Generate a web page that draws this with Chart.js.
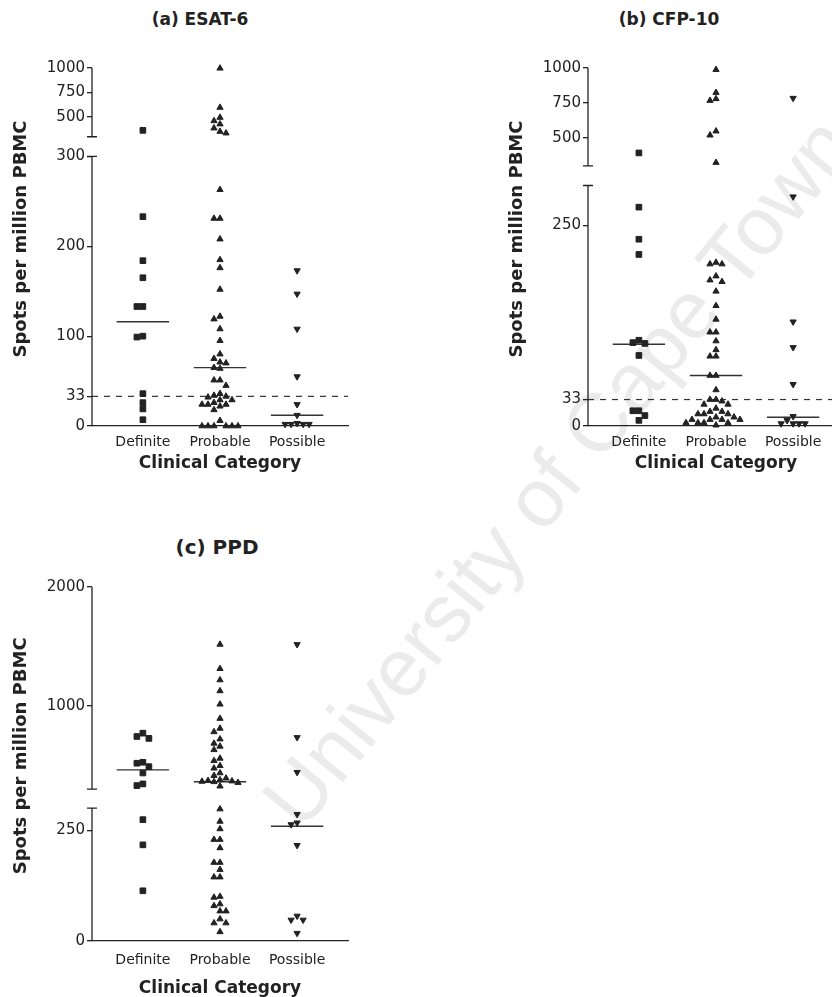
<!DOCTYPE html>
<html lang="en">
<head>
    <meta charset="UTF-8">
    <title>ELISpot responses by clinical category</title>
    <script src="https://cdn.jsdelivr.net/npm/chart.js"></script>
    <style>
        body { margin: 0; width: 832px; height: 997px; overflow: hidden; background: #fff; position: relative; }
        canvas { position: absolute; }
        .title { position: absolute; transform: translate(-50%, -50%); font-family: "DejaVu Sans"; font-weight: bold; color: #222; white-space: nowrap; }
        #watermark { position: absolute; left: 558px; top: 472px; transform: translate(-50%, -50%) rotate(-51deg);
                     font: 82px "Liberation Sans"; color: #ebebeb; white-space: nowrap; }
    </style>
</head>
<body>
    <div id="watermark">University of Cape Town</div>

    <div class="title" style="left:200px; top:19px; font-size:17px">(a) ESAT-6</div>
    <div class="title" style="left:669px; top:19px; font-size:17px">(b) CFP-10</div>
    <div class="title" style="left:217px; top:547px; font-size:20px">(c) PPD</div>

    <canvas id="esatChart" width="420" height="480" style="left:0; top:0"></canvas>
    <canvas id="cfpChart" width="420" height="480" style="left:496px; top:0"></canvas>
    <canvas id="ppdChart" width="420" height="480" style="left:0; top:519px"></canvas>

    <script>
        // categories and spot counts
        const categories = ['Definite', 'Probable', 'Possible'];

        const esatDefinite = [365, 233, 184, 165, 133, 133, 100, 99, 36, 26, 19, 7];
        const esatProbable = [997, 598, 496, 462, 429, 388, 353, 337, 263, 231, 231, 208, 185, 176, 152, 122, 119, 108, 95,
            80, 75, 71, 70, 65, 64, 51, 51, 45, 36, 34, 33, 32, 29, 29, 26, 24, 24, 24, 22, 18, 6, 0, 0, 0, 0, 0, 0];
        const esatPossible = [173, 147, 108, 55, 24, 12, 3, 2, 2, 2, 2];
        const esatMedians = [116, 65, 12];
        const esatTicks = [0, 33, 100, 200, 300, 500, 750, 1000];

        const cfpDefinite = [392, 273, 233, 214, 107, 104, 103, 88, 19, 19, 13, 7];
        const cfpProbable = [988, 824, 779, 767, 548, 519, 323, 204, 202, 202, 187, 182, 180, 168, 150, 133, 117, 117, 106,
            95, 87, 87, 63, 63, 45, 33, 33, 31, 27, 27, 22, 18, 18, 15, 15, 15, 11, 11, 8, 8, 8, 8, 4, 4, 4, 4, 1];
        const cfpPossible = [784, 286, 130, 98, 52, 12, 7, 3, 3, 3, 3];
        const cfpMedians = [102, 63, 11];
        const cfpTicks = [0, 33, 250, 500, 750, 1000];

        const ppdDefinite = [771, 743, 727, 526, 518, 489, 436, 344, 330, 274, 217, 113];
        const ppdProbable = [1517, 1313, 1218, 1126, 1014, 894, 811, 782, 721, 685, 660, 631, 559, 539, 497, 476, 436, 414,
            392, 378, 372, 368, 365, 362, 355, 325, 298, 270, 253, 229, 229, 210, 177, 177, 161, 144, 144, 100, 98, 83, 79,
            67, 67, 49, 40, 40, 20];
        const ppdPossible = [1517, 735, 442, 286, 267, 263, 216, 56, 47, 47, 17];
        const ppdMedians = [462, 362, 259];
        const ppdTicks = [0, 250, 1000, 2000];

        const cutoff = 33;

        const INK = '#222';
        const X_MIN = -0.66, X_MAX = 2.66;
        const PLOT_W = 256;

        // y axis is broken: lower part 0..breakAt, upper part breakAt..top.
        // values are mapped to pixel-sized units so each part keeps its own scale
        function makeMapper(seg) {
            return v => v <= seg.breakAt
                ? v / seg.breakAt * seg.lowPx
                : seg.lowPx + seg.gapPx + (v - seg.breakAt) / (seg.top - seg.breakAt) * seg.highPx;
        }

        // simple beeswarm so that equal values sit side by side
        function swarm(values, toV) {
            const step = 6, minD = 6;
            const placed = [];
            const out = new Array(values.length);
            const order = values.map((v, i) => i).sort((a, b) => values[b] - values[a]);
            for (const i of order) {
                const py = toV(values[i]);
                let dx = 0;
                for (const c of [0, -1, 1, -2, 2, -3, 3, -4, 4, -5, 5]) {
                    dx = c * step;
                    if (placed.every(p => Math.hypot(p.dx - dx, p.py - py) >= minD)) break;
                }
                placed.push({ dx, py });
                out[i] = dx;
            }
            return out;
        }

        // draws the two pieces of the y axis with caps at the break,
        // and the y title a little above the middle like the original
        const brokenAxis = {
            id: 'brokenAxis',
            afterDraw(chart, args, opts) {
                const { ctx, chartArea } = chart;
                const y = chart.scales.y;
                const x0 = chartArea.left;
                const lowTop = y.getPixelForValue(opts.lowPx);
                const highBottom = y.getPixelForValue(opts.lowPx + opts.gapPx);
                ctx.save();
                ctx.strokeStyle = INK;
                ctx.lineWidth = 1.3;
                ctx.beginPath();
                ctx.moveTo(x0, y.getPixelForValue(0));
                ctx.lineTo(x0, lowTop);
                ctx.moveTo(x0, highBottom);
                ctx.lineTo(x0, y.getPixelForValue(y.max));
                ctx.moveTo(x0 - 5, lowTop);
                ctx.lineTo(x0 + 5, lowTop);
                ctx.moveTo(x0 - 5, highBottom);
                ctx.lineTo(x0 + 5, highBottom);
                ctx.stroke();

                ctx.translate(21, (chartArea.top + chartArea.bottom) / 2 - 8);
                ctx.rotate(-Math.PI / 2);
                ctx.fillStyle = INK;
                ctx.font = 'bold 18px "DejaVu Sans"';
                ctx.textAlign = 'center';
                ctx.textBaseline = 'middle';
                ctx.fillText('Spots per million PBMC', 0, 0);
                ctx.restore();
            }
        };

        const markers = [
            { pointStyle: 'rect', rotation: 0, pointRadius: 4 },
            { pointStyle: 'triangle', rotation: 0, pointRadius: 3.6 },
            { pointStyle: 'triangle', rotation: 180, pointRadius: 3.6 }
        ];

        function buildPanel(canvasId, groups, medians, tickValues, seg, withCutoff) {
            const toV = makeMapper(seg);
            const pxPerX = PLOT_W / (X_MAX - X_MIN);
            const datasets = [];

            groups.forEach((vals, g) => {
                const offsets = swarm(vals, toV);
                datasets.push({
                    data: vals.map((v, i) => ({ x: g + offsets[i] / pxPerX, y: toV(v) })),
                    pointStyle: markers[g].pointStyle,
                    rotation: markers[g].rotation,
                    pointRadius: markers[g].pointRadius,
                    backgroundColor: INK,
                    borderColor: INK,
                    borderWidth: 1,
                    clip: 8
                });
            });

            medians.forEach((m, g) => {
                datasets.push({
                    data: [{ x: g - 0.34, y: toV(m) }, { x: g + 0.34, y: toV(m) }],
                    showLine: true,
                    pointRadius: 0,
                    borderColor: '#333',
                    borderWidth: 1.4
                });
            });

            if (withCutoff) {
                datasets.push({
                    data: [{ x: X_MIN, y: toV(cutoff) }, { x: X_MAX, y: toV(cutoff) }],
                    showLine: true,
                    pointRadius: 0,
                    borderColor: '#333',
                    borderWidth: 1.2,
                    borderDash: [6, 6]
                });
            }

            const ctx = document.getElementById(canvasId).getContext('2d');
            return new Chart(ctx, {
                type: 'scatter',
                data: { datasets: datasets },
                plugins: [brokenAxis],
                options: {
                    responsive: false,
                    animation: false,
                    layout: { padding: { top: 68, right: 72, bottom: 0, left: 0 } },
                    plugins: {
                        legend: { display: false },
                        tooltip: { enabled: false },
                        brokenAxis: { lowPx: seg.lowPx, gapPx: seg.gapPx }
                    },
                    scales: {
                        x: {
                            type: 'linear',
                            min: X_MIN,
                            max: X_MAX,
                            afterBuildTicks: s => { s.ticks = categories.map((c, i) => ({ value: i })); },
                            afterFit: s => { s.height = seg.xAxisH; },
                            ticks: {
                                autoSkip: false,
                                maxRotation: 0,
                                padding: seg.xTickPad,
                                color: INK,
                                font: { family: 'DejaVu Sans', size: 14 },
                                callback: (v, i) => categories[i]
                            },
                            grid: { display: false, drawTicks: false },
                            border: { display: true, color: INK, width: 1.3 },
                            title: {
                                display: true,
                                text: 'Clinical Category',
                                color: INK,
                                font: { family: 'DejaVu Sans', size: 17, weight: 'bold' },
                                padding: { top: 0, bottom: seg.xTitlePad }
                            }
                        },
                        y: {
                            type: 'linear',
                            min: 0,
                            max: seg.lowPx + seg.gapPx + seg.highPx,
                            afterBuildTicks: s => { s.ticks = tickValues.map(t => ({ value: toV(t) })); },
                            afterFit: s => { s.width = 92; },
                            ticks: {
                                autoSkip: false,
                                padding: 2,
                                color: INK,
                                font: { family: 'DejaVu Sans', size: 15 },
                                callback: (v, i) => String(tickValues[i])
                            },
                            grid: { display: true, drawOnChartArea: false, drawTicks: true, tickLength: 5, color: INK, lineWidth: 1.3 },
                            border: { display: false },
                            title: { display: false }
                        }
                    }
                }
            });
        }

        buildPanel('esatChart', [esatDefinite, esatProbable, esatPossible], esatMedians, esatTicks,
            { breakAt: 300, top: 1000, lowPx: 269.3, gapPx: 19.7, highPx: 68.7, xAxisH: 54, xTickPad: 8, xTitlePad: 6 }, true);

        buildPanel('cfpChart', [cfpDefinite, cfpProbable, cfpPossible], cfpMedians, cfpTicks,
            { breakAt: 300, top: 1000, lowPx: 240.3, gapPx: 19.7, highPx: 97.7, xAxisH: 54, xTickPad: 8, xTitlePad: 6 }, true);

        buildPanel('ppdChart', [ppdDefinite, ppdProbable, ppdPossible], ppdMedians, ppdTicks,
            { breakAt: 300, top: 2000, lowPx: 132.4, gapPx: 19, highPx: 202, xAxisH: 58.3, xTickPad: 11, xTitlePad: 0 }, false);
    </script>
</body>
</html>
